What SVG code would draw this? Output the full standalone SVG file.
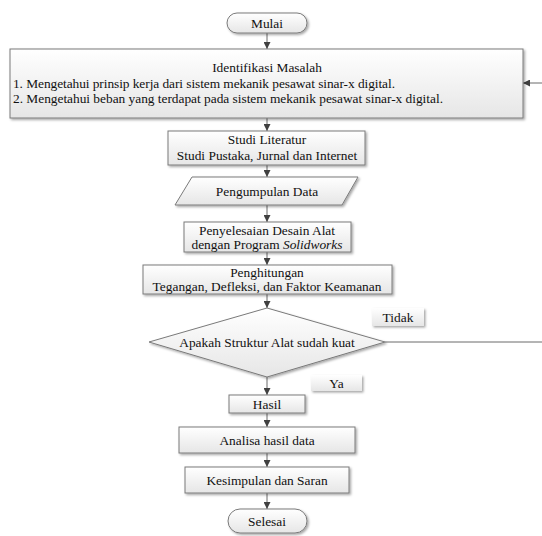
<svg xmlns="http://www.w3.org/2000/svg" width="542" height="536" viewBox="0 0 542 536">
<defs>
<linearGradient id="g" x1="0" y1="0" x2="0" y2="1">
<stop offset="0" stop-color="#ffffff"/>
<stop offset="1" stop-color="#e6e6e6"/>
</linearGradient>
<filter id="sh" x="-10%" y="-20%" width="120%" height="150%">
<feDropShadow dx="1.5" dy="1.5" stdDeviation="1" flood-color="#000" flood-opacity="0.35"/>
</filter>
<marker id="ah" viewBox="0 0 10 10" refX="10" refY="5" markerWidth="7" markerHeight="7" markerUnits="userSpaceOnUse" orient="auto">
<path d="M0,0 L10,5 L0,10 z" fill="#404040"/>
</marker>
</defs>
<style>
.n{fill:url(#g);stroke:#7a7a7a;stroke-width:1;filter:url(#sh)}
.l{fill:url(#g);stroke:none;filter:url(#sh)}
.c{fill:none;stroke:#6a6a6a;stroke-width:1}
.a{marker-end:url(#ah)}
.m{text-anchor:middle}
</style>
<rect width="542" height="536" fill="#ffffff"/>
<g id="connectors">
<line class="c a" x1="267" y1="33" x2="267" y2="49"/>
<line class="c a" x1="267" y1="118" x2="267" y2="131"/>
<line class="c a" x1="267" y1="165" x2="267" y2="177"/>
<line class="c a" x1="267" y1="205" x2="267" y2="222"/>
<line class="c a" x1="267" y1="252" x2="267" y2="265"/>
<line class="c a" x1="267" y1="294" x2="267" y2="308"/>
<line class="c a" x1="267" y1="377" x2="267" y2="395"/>
<line class="c a" x1="267" y1="413" x2="267" y2="427"/>
<line class="c a" x1="267" y1="453" x2="267" y2="467"/>
<line class="c a" x1="267" y1="493" x2="267" y2="509"/>
<polyline class="c a" points="385,342 542.5,342 542.5,83 523,83"/>
</g>
<g font-family="'Liberation Serif', 'Times New Roman', serif" font-size="13.4" fill="#111">
<g id="mulai">
<rect class="n" x="227" y="13" width="80" height="20" rx="10"/>
<text class="m" x="267" y="28">Mulai</text>
</g>
<g id="identifikasi">
<rect class="n" x="10" y="49" width="513" height="69"/>
<text class="m" x="267" y="72">Identifikasi Masalah</text>
<text x="13" y="88" textLength="382" lengthAdjust="spacing">1. Mengetahui prinsip kerja dari sistem mekanik pesawat sinar-x digital.</text>
<text x="13" y="103" textLength="430" lengthAdjust="spacing">2. Mengetahui beban yang terdapat pada sistem mekanik pesawat sinar-x digital.</text>
</g>
<g id="studi">
<rect class="n" x="168" y="131" width="197" height="34"/>
<text class="m" x="267" y="144">Studi Literatur</text>
<text class="m" x="267" y="159.5">Studi Pustaka, Jurnal dan Internet</text>
</g>
<g id="pengumpulan">
<polygon class="n" points="192,177 358,177 342,205 175,205"/>
<text class="m" x="267" y="195.5">Pengumpulan Data</text>
</g>
<g id="penyelesaian">
<rect class="n" x="184" y="222" width="167" height="30"/>
<text class="m" x="267" y="235">Penyelesaian Desain Alat</text>
<text class="m" x="267" y="249">dengan Program <tspan font-style="italic">Solidworks</tspan></text>
</g>
<g id="penghitungan">
<rect class="n" x="143" y="265" width="249" height="29"/>
<text class="m" x="267" y="277">Penghitungan</text>
<text class="m" x="267" y="291">Tegangan, Defleksi, dan Faktor Keamanan</text>
</g>
<g id="keputusan">
<polygon class="n" points="267,308 385,342 267,377 149,342"/>
<text class="m" x="267" y="346.5">Apakah Struktur Alat sudah kuat</text>
</g>
<g id="tidak">
<rect class="l" x="372" y="308" width="52" height="18"/>
<text class="m" x="398" y="321.5">Tidak</text>
</g>
<g id="ya">
<rect class="l" x="311" y="375" width="51" height="16"/>
<text class="m" x="336.5" y="387.5">Ya</text>
</g>
<g id="hasil">
<rect class="n" x="229" y="395" width="76" height="18"/>
<text class="m" x="267" y="409">Hasil</text>
</g>
<g id="analisa">
<rect class="n" x="179" y="427" width="176" height="26"/>
<text class="m" x="267" y="444.5">Analisa hasil data</text>
</g>
<g id="kesimpulan">
<rect class="n" x="185" y="467" width="164" height="26"/>
<text class="m" x="267" y="484.5">Kesimpulan dan Saran</text>
</g>
<g id="selesai">
<rect class="n" x="228" y="509" width="79" height="24" rx="12"/>
<text class="m" x="267" y="526">Selesai</text>
</g>
</g>
</svg>
